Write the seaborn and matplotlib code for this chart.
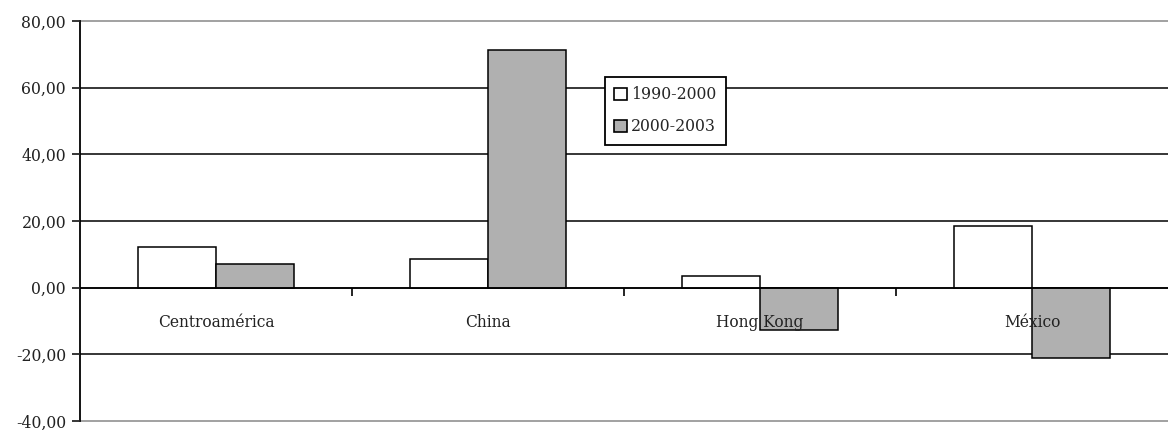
import matplotlib
matplotlib.use('Agg')
import matplotlib.pyplot as plt
from matplotlib.ticker import FuncFormatter
from matplotlib.patches import Patch
import seaborn as sns
import pandas as pd

# Data
regions = ['Centroamérica', 'China', 'Hong Kong', 'México']
periods = ['1990-2000', '2000-2003']
v_1990_2000 = [12.1, 8.6, 3.6, 18.4]
v_2000_2003 = [7.2, 71.4, -12.6, -21.1]
colors = ['#FFFFFF', '#B0B0B0']

df = pd.DataFrame({
    'region': regions * 2,
    'period': [periods[0]] * 4 + [periods[1]] * 4,
    'value': v_1990_2000 + v_2000_2003})

sns.set_style('white')
plt.rcParams['font.family'] = ['DejaVu Serif']

fig = plt.figure(figsize=(11.68, 4.30), dpi=100)
ax = fig.add_axes([80/1168, 9/430, 1088/1168, 400/430])

sns.barplot(data=df, x='region', y='value', hue='period', palette=colors,
            edgecolor='black', linewidth=1.1, width=0.57, ax=ax)

ax.set_ylim(-40, 80)
ax.set_xlim(-0.5, 3.5)
yticks = list(range(-40, 81, 20))
ax.set_yticks(yticks)
ax.yaxis.set_major_formatter(FuncFormatter(lambda v, p: f'{v:.2f}'.replace('.', ',')))

# gridlines behind the bars, tick labels on top of them
for y in yticks:
    edge = y in (yticks[0], yticks[-1])
    ax.axhline(y, color='#888888' if edge else 'black', linewidth=1.1,
               zorder=0.5, clip_on=False)
ax.set_axisbelow(False)
ax.set_xlabel('')
ax.set_ylabel('')

for s in ['top', 'right']:
    ax.spines[s].set_visible(False)
ax.spines['left'].set_color('black')
ax.spines['left'].set_linewidth(1.3)
ax.spines['bottom'].set_position(('data', 0))
ax.spines['bottom'].set_color('black')
ax.spines['bottom'].set_linewidth(1.1)

ax.tick_params(axis='y', left=True, direction='out', length=6, width=1.3,
               labelsize=11.3, labelcolor='#222222', pad=4)
ax.tick_params(axis='x', which='major', length=0, labelsize=11.2,
               labelcolor='#222222', pad=19)
ax.set_xticks([0.5, 1.5, 2.5], minor=True)
ax.tick_params(axis='x', which='minor', bottom=True, direction='out',
               length=6, width=1.2, color='black')

handles = [Patch(facecolor=c, edgecolor='black', linewidth=1.2) for c in colors]
leg = ax.legend(handles, periods, loc='upper left', bbox_to_anchor=(0.4825, 0.86),
                frameon=True, fancybox=False, edgecolor='black', framealpha=1,
                fontsize=11.3, handlelength=0.8, handleheight=0.8,
                handletextpad=0.25, borderpad=0.6, labelspacing=0.95,
                borderaxespad=0)
leg.get_frame().set_linewidth(1.3)

plt.savefig('out.png', dpi=100)
